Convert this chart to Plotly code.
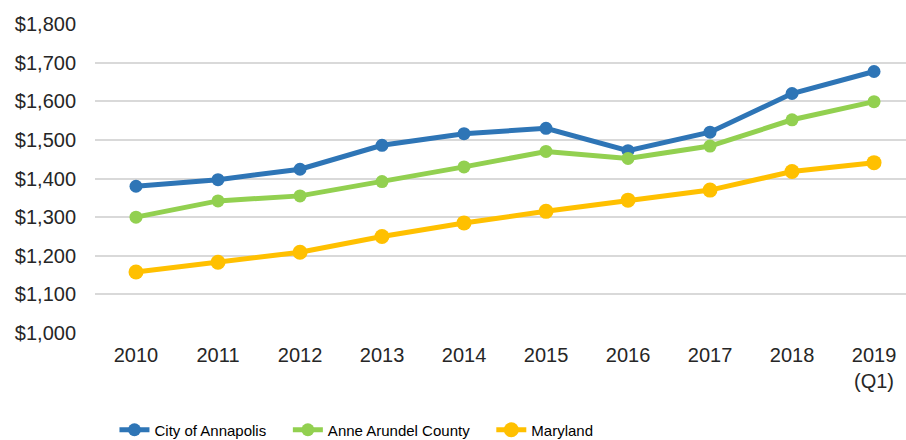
import plotly.graph_objects as go

years = ["2010", "2011", "2012", "2013", "2014", "2015", "2016", "2017", "2018", "2019<br>(Q1)"]
annapolis = [1380, 1397, 1424, 1486, 1516, 1530, 1472, 1520, 1620, 1677]
anne_arundel = [1300, 1342, 1355, 1392, 1430, 1470, 1452, 1484, 1552, 1599]
maryland = [1158, 1183, 1209, 1250, 1285, 1315, 1344, 1370, 1418, 1441]
y_ticks = [1000, 1100, 1200, 1300, 1400, 1500, 1600, 1700, 1800]
y_labels = ["$" + f"{v:,}" for v in y_ticks]

series = [
    ("City of Annapolis", annapolis, "#2E75B6", 13),
    ("Anne Arundel County", anne_arundel, "#92D050", 13),
    ("Maryland", maryland, "#FFC000", 15),
]

pad = "\u00a0" * 4
fig = go.Figure()
for name, vals, color, ms in series:
    fig.add_trace(go.Scatter(
        x=list(range(len(years))), y=vals, name=name + pad, mode="lines+markers",
        line=dict(color=color, width=5),
        marker=dict(color=color, size=ms),
    ))

fig.update_layout(
    width=906, height=440,
    margin=dict(l=95, r=0, t=24, b=107, autoexpand=False),
    paper_bgcolor="white", plot_bgcolor="white",
    font=dict(family="Arial, Liberation Sans", size=20, color="#262626"),
    showlegend=True,
    legend=dict(orientation="h", x=0.024, xanchor="left", y=-0.314, yanchor="middle",
                font=dict(family="Arial, Liberation Sans", size=15, color="#000000"),
                tracegroupgap=0, traceorder="normal"),
    xaxis=dict(
        tickmode="array", tickvals=list(range(len(years))), ticktext=years,
        range=[-0.5, 9.39], showgrid=False, zeroline=False, showline=False,
        ticks="", ticklabelstandoff=8, automargin=False,
    ),
    yaxis=dict(
        range=[1000, 1800], tickmode="array", tickvals=y_ticks, ticktext=y_labels,
        showgrid=True, gridcolor="#D9D9D9", gridwidth=1.5, zeroline=False,
        showline=False, ticks="", ticklabelstandoff=18, automargin=False,
    ),
)

fig.write_html("out.html", config={"displayModeBar": False},
               post_script="document.body.style.margin='0';document.body.style.overflow='hidden';")
